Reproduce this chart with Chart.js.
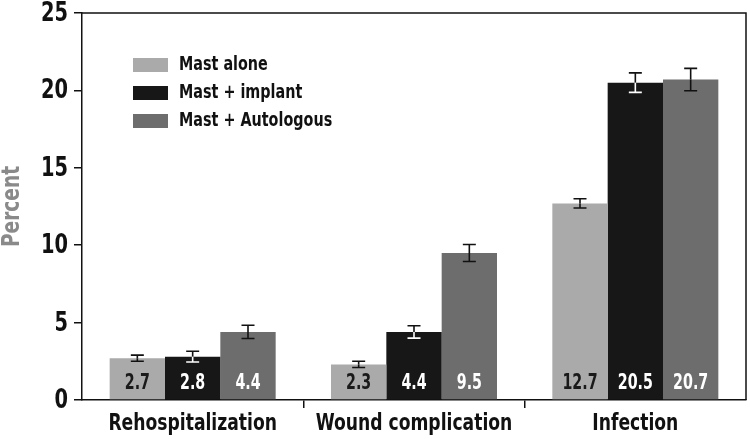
<!DOCTYPE html>
<html>
<head>
<meta charset="utf-8">
<script src="https://cdn.jsdelivr.net/npm/chart.js@4.4.0/dist/chart.umd.min.js"></script>
<style>
  html, body { margin: 0; padding: 0; background: #fff; }
  #wrap { width: 750px; height: 439px; position: relative; }
</style>
</head>
<body>
<div id="wrap"><canvas id="chart"></canvas></div>
<script>
const categories = ['Rehospitalization', 'Wound complication', 'Infection'];
const seriesNames = ['Mast alone', 'Mast + implant', 'Mast + Autologous'];
const mastAlone = [2.7, 2.3, 12.7];
const mastImplant = [2.8, 4.4, 20.5];
const mastAutologous = [4.4, 9.5, 20.7];
const errAlone = [0.2, 0.2, 0.3];
const errImplant = [0.35, 0.4, 0.63];
const errAutologous = [0.43, 0.55, 0.72];
const yTicks = [0, 5, 10, 15, 20, 25];

const barColors = ['#aaaaaa', '#171717', '#6d6d6d'];
const labelColors = ['#1a1a1a', '#ffffff', '#ffffff'];
const FONT = '"DejaVu Sans Condensed", "Liberation Sans", sans-serif';

const errors = [errAlone, errImplant, errAutologous];

// the reference uses a condensed face, so squeeze text horizontally
function narrowText(ctx, text, x, y, sx, rot) {
  ctx.save();
  ctx.translate(x, y);
  if (rot) ctx.rotate(rot);
  ctx.scale(sx, 1);
  ctx.fillText(text, 0, 0);
  ctx.restore();
}

const decorPlugin = {
  id: 'decor',
  afterDraw(chart) {
    const ctx = chart.ctx;
    const x = chart.scales.x;
    const y = chart.scales.y;
    const area = chart.chartArea;
    ctx.save();

    // axis labels
    ctx.fillStyle = '#111';
    ctx.font = 'bold 27px ' + FONT;
    ctx.textAlign = 'right';
    ctx.textBaseline = 'middle';
    yTicks.forEach(v => narrowText(ctx, String(v), area.left - 14, y.getPixelForValue(v) + 1, 0.8));

    ctx.font = 'bold 23px ' + FONT;
    ctx.textAlign = 'center';
    ctx.textBaseline = 'alphabetic';
    categories.forEach((c, i) => narrowText(ctx, c, x.getPixelForTick(i), 430, 0.83));

    ctx.fillStyle = '#8a8a8a';
    ctx.font = 'bold 24px ' + FONT;
    ctx.textBaseline = 'middle';
    narrowText(ctx, 'Percent', 13, (area.top + area.bottom) / 2, 0.86, -Math.PI / 2);

    // values inside bars and error bars
    chart.data.datasets.forEach((ds, di) => {
      const meta = chart.getDatasetMeta(di);
      meta.data.forEach((bar, i) => {
        const v = ds.data[i];
        ctx.fillStyle = labelColors[di];
        ctx.font = 'bold 22px ' + FONT;
        ctx.textAlign = 'center';
        ctx.textBaseline = 'middle';
        narrowText(ctx, v.toFixed(1), bar.x, y.getPixelForValue(0) - 17, 0.72);

        const e = errors[di][i];
        const top = y.getPixelForValue(v + e);
        const bot = y.getPixelForValue(v - e);
        const mid = y.getPixelForValue(v);
        ctx.lineWidth = 1.6;
        ctx.strokeStyle = '#111';
        ctx.beginPath();
        ctx.moveTo(bar.x, top); ctx.lineTo(bar.x, mid);
        ctx.moveTo(bar.x - 6.5, top); ctx.lineTo(bar.x + 6.5, top);
        ctx.stroke();
        ctx.strokeStyle = di === 1 ? '#ffffff' : '#111';
        ctx.beginPath();
        ctx.moveTo(bar.x, mid); ctx.lineTo(bar.x, bot);
        ctx.moveTo(bar.x - 6.5, bot); ctx.lineTo(bar.x + 6.5, bot);
        ctx.stroke();
      });
    });

    // legend
    seriesNames.forEach((name, i) => {
      const ly = 65 + i * 28;
      ctx.fillStyle = barColors[i];
      ctx.fillRect(133, ly - 7, 35, 14);
      ctx.fillStyle = '#111';
      ctx.font = 'bold 19px ' + FONT;
      ctx.textAlign = 'left';
      ctx.textBaseline = 'middle';
      narrowText(ctx, name, 179, ly, 0.84);
    });

    // frame top and right
    ctx.strokeStyle = '#111';
    ctx.lineWidth = 1.5;
    ctx.beginPath();
    ctx.moveTo(area.left, area.top);
    ctx.lineTo(area.right, area.top);
    ctx.lineTo(area.right, area.bottom);
    ctx.stroke();
    ctx.restore();
  }
};

// only the tick marks between categories, not at the two ends
const innerTicks = (c) => (c.type !== 'tick' || c.index === 0) ? 'rgba(0,0,0,0)' : '#111';

new Chart(document.getElementById('chart'), {
  type: 'bar',
  data: {
    labels: categories,
    datasets: [
      { label: seriesNames[0], data: mastAlone, backgroundColor: barColors[0] },
      { label: seriesNames[1], data: mastImplant, backgroundColor: barColors[1] },
      { label: seriesNames[2], data: mastAutologous, backgroundColor: barColors[2] },
    ]
  },
  options: {
    responsive: true,
    maintainAspectRatio: false,
    animation: false,
    devicePixelRatio: 1,
    layout: { padding: { top: 0, right: 4, left: 0, bottom: 0 } },
    datasets: { bar: { categoryPercentage: 0.75, barPercentage: 1.0, borderWidth: 0 } },
    plugins: {
      legend: { display: false },
      tooltip: { enabled: false }
    },
    scales: {
      x: {
        grid: { display: true, offset: true, drawOnChartArea: false, tickLength: 8, color: innerTicks, lineWidth: 1.5 },
        border: { display: true, color: '#111', width: 1.5 },
        ticks: { color: 'rgba(0,0,0,0)', font: { family: FONT, size: 19, weight: 'bold' }, maxRotation: 0, autoSkip: false },
        afterFit(scale) { scale.height = 39; scale.paddingLeft = 0; scale.paddingRight = 0; }
      },
      y: {
        min: 0,
        max: 25,
        afterBuildTicks(scale) { scale.ticks = yTicks.map(v => ({ value: v })); },
        grid: { display: true, drawOnChartArea: false, tickLength: 8, color: '#111', lineWidth: 1.5 },
        border: { display: true, color: '#111', width: 1.5 },
        ticks: { color: 'rgba(0,0,0,0)', font: { family: FONT, size: 20, weight: 'bold' }, padding: 5 },
        afterFit(scale) { scale.width = 82; scale.paddingTop = 13; scale.paddingBottom = 0; }
      }
    }
  },
  plugins: [decorPlugin]
});
</script>
</body>
</html>
